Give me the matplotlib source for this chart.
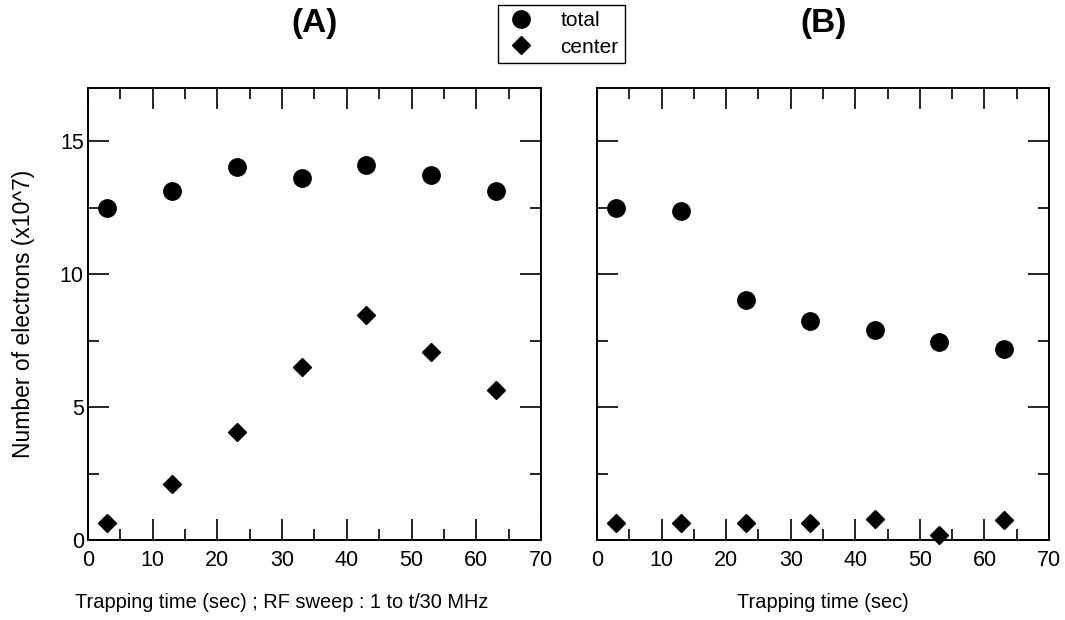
import matplotlib
matplotlib.use("Agg")
import matplotlib.pyplot as plt
from matplotlib.ticker import MultipleLocator

plt.rcParams['font.family'] = ['Liberation Sans', 'DejaVu Sans']

time = [3, 13, 23, 33, 43, 53, 63]

total_a = [12.48, 13.12, 14.02, 13.6, 14.1, 13.72, 13.12]
center_a = [0.64, 2.1, 4.06, 6.5, 8.46, 7.07, 5.64]

total_b = [12.48, 12.37, 9.02, 8.23, 7.89, 7.44, 7.18]
center_b = [0.64, 0.64, 0.64, 0.64, 0.79, 0.19, 0.75]

fig = plt.figure(figsize=(10.65, 6.2), dpi=100)
ax_a = fig.add_axes([0.0826, 0.129, 0.4254, 0.729])
ax_b = fig.add_axes([0.5606, 0.129, 0.4244, 0.729])


def style(ax, show_ylabels):
    ax.set_xlim(0, 70)
    ax.set_ylim(0, 17)
    ax.xaxis.set_major_locator(MultipleLocator(10))
    ax.xaxis.set_minor_locator(MultipleLocator(5))
    ax.yaxis.set_major_locator(MultipleLocator(5))
    ax.yaxis.set_minor_locator(MultipleLocator(2.5))
    ax.tick_params(which='both', direction='in', top=True, right=True,
                   width=1.2, labelsize=15.5, pad=3)
    ax.tick_params(axis='x', pad=7)
    ax.tick_params(which='major', length=15)
    ax.tick_params(which='minor', length=8)
    if not show_ylabels:
        ax.tick_params(axis='y', labelleft=False)
    for s in ax.spines.values():
        s.set_linewidth(1.4)


for ax, tot, cen, title in [(ax_a, total_a, center_a, '(A)'),
                            (ax_b, total_b, center_b, '(B)')]:
    ax.plot(time, tot, 'o', color='black', markersize=12.5, label='total',
            clip_on=False)
    ax.plot(time, cen, 'D', color='black', markersize=9, label='center',
            clip_on=False)
    ax.set_title(title, fontsize=24, fontweight='bold', pad=40)

style(ax_a, True)
style(ax_b, False)

ax_a.set_ylabel('Number of electrons (x10^7)', fontsize=16.5, labelpad=18)
ax_a.set_xlabel('Trapping time (sec) ; RF sweep : 1 to t/30 MHz',
                fontsize=14.4)
ax_a.xaxis.set_label_coords(0.428, -0.117, transform=ax_a.transAxes)
ax_a.xaxis.label.set_va('top')
ax_b.set_xlabel('Trapping time (sec)', fontsize=14.4)
ax_b.xaxis.set_label_coords(0.5, -0.117, transform=ax_b.transAxes)
ax_b.xaxis.label.set_va('top')

handles, labels = ax_a.get_legend_handles_labels()
leg = fig.legend(handles, labels, loc='upper left',
                 bbox_to_anchor=(498 / 1065, 1 - 5 / 620),
                 fontsize=15, frameon=True, fancybox=False,
                 edgecolor='black', handletextpad=1.1, borderpad=0.3,
                 labelspacing=0.35, handlelength=1.6, borderaxespad=0,
                 framealpha=1)
leg.get_frame().set_linewidth(1.0)

fig.savefig('out.png', dpi=100)
